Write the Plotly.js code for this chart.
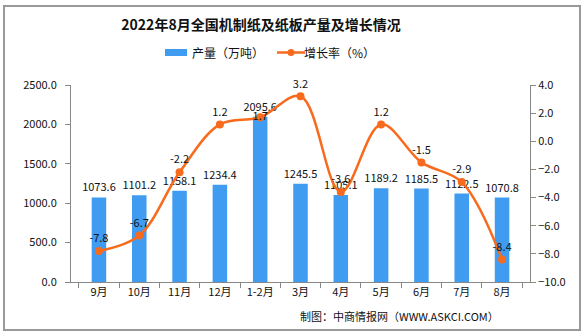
<!DOCTYPE html>
<html><head><meta charset="utf-8">
<script src="https://cdn.plot.ly/plotly-3.0.1.min.js"></script>
<style>
html,body{margin:0;padding:0;background:#fff;}
#wrap{position:relative;width:584px;height:336px;}
#chart{width:584px;height:336px;}
#frame{position:absolute;left:3px;top:5px;width:574px;height:322px;border:2px solid #9a9a9a;pointer-events:none;}
</style></head>
<body><div id="wrap"><div id="chart"></div><div id="frame"></div></div>
<script>
const categories = ['9月','10月','11月','12月','1-2月','3月','4月','5月','6月','7月','8月'];
const output = [1073.6,1101.2,1158.1,1234.4,2095.6,1245.5,1105.1,1189.2,1185.5,1122.5,1070.8];
const growth = [-7.8,-6.7,-2.2,1.2,1.7,3.2,-3.6,1.2,-1.5,-2.9,-8.4];
const barName = '产量（万吨）';
const lineName = '增长率（%）';
const font = '"Noto Sans CJK SC", "DejaVu Sans", sans-serif';
const barColor = '#3f9cf0', lineColor = '#f86a1c';

// plot area in px: x 71..530, y 85..282
const L=71, R=530, T=85, B=282;
const px = x => (x-L)/(R-L);
const py = y => (B-y)/(B-T);

const traces = [
  {type:'bar', name:barName, x:categories, y:output, marker:{color:barColor}, width:0.36,
   text:output.map(v=>v.toFixed(1)), textposition:'outside', constraintext:'none', cliponaxis:false,
   textfont:{size:11,color:'#111',family:font}, showlegend:false},
  {type:'scatter', mode:'lines+markers+text', name:lineName, x:categories, y:growth, yaxis:'y2',
   line:{color:lineColor,width:2.5,shape:'spline',smoothing:1}, marker:{color:lineColor,size:8},
   text:growth.map(v=>v.toFixed(1)),
   textposition:categories.map((c,i)=> i===4 ? 'middle center' : 'top center'),
   cliponaxis:false, textfont:{size:11,color:'#111',family:font}, showlegend:false}
];
const layout = {
  width:584, height:336, margin:{l:L,r:584-R,t:T,b:336-B},
  paper_bgcolor:'#fff', plot_bgcolor:'#fff', showlegend:false,
  font:{family:font,size:11,color:'#111'},
  title:{text:'<b>2022年8月全国机制纸及纸板产量及增长情况</b>', x:261/584, xanchor:'center', y:1-25/336, yanchor:'middle', font:{size:14,color:'#111',family:font}},
  xaxis:{type:'category', showline:true, linecolor:'#888', linewidth:1, ticks:'outside', tickson:'boundaries', ticklen:5, tickcolor:'#888', tickfont:{size:11}, showgrid:false},
  yaxis:{range:[0,2500], dtick:500, tickformat:'.1f', showline:true, linecolor:'#888', ticks:'outside', ticklen:5, tickcolor:'#888', showgrid:false, zeroline:false, tickfont:{size:11}, ticklabelstandoff:6},
  yaxis2:{overlaying:'y', side:'right', range:[-10,4], dtick:2, tickformat:'.1f', showline:true, linecolor:'#888', ticks:'outside', ticklen:5, tickcolor:'#888', showgrid:false, zeroline:false, tickfont:{size:11}},
  shapes:[
    {type:'rect', xref:'paper', yref:'paper', x0:px(165), x1:px(187), y0:py(56), y1:py(49), fillcolor:barColor, line:{width:0}},
    {type:'line', xref:'paper', yref:'paper', x0:px(277), x1:px(305), y0:py(52.5), y1:py(52.5), line:{color:lineColor,width:2.5}},
    {type:'circle', xref:'paper', yref:'paper', x0:px(287.5), x1:px(294.5), y0:py(56), y1:py(49), fillcolor:lineColor, line:{width:0}}
  ],
  annotations:[
    {text:barName, xref:'paper', yref:'paper', x:px(190), xanchor:'left', y:py(52.5), yanchor:'middle', showarrow:false, font:{size:12,color:'#111',family:font}},
    {text:lineName, xref:'paper', yref:'paper', x:px(302), xanchor:'left', y:py(52.5), yanchor:'middle', showarrow:false, font:{size:12,color:'#111',family:font}},
    {text:'制图：中商情报网（WWW.ASKCI.COM）', xref:'paper', yref:'paper', x:px(501), xanchor:'right', y:py(316), yanchor:'middle', showarrow:false, font:{size:11,color:'#111',family:font}}
  ]
};
Plotly.newPlot('chart', traces, layout, {displayModeBar:false, staticPlot:true});
</script></body></html>
